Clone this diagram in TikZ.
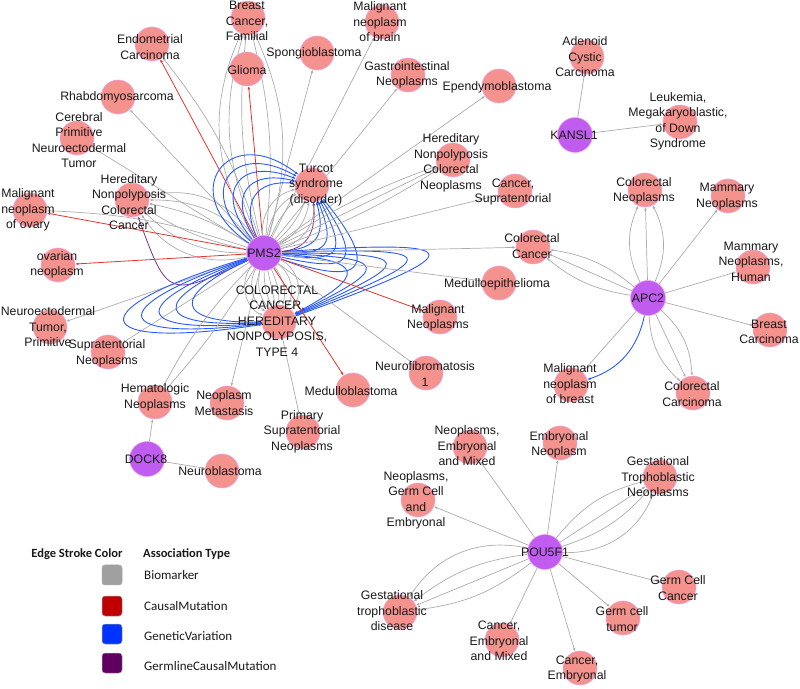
\documentclass[tikz,border=0pt]{standalone}
\usepackage{fontspec}
\setmainfont{Liberation Sans}
\newfontfamily\legfont{Carlito}
\usetikzlibrary{arrows.meta}
\pgfdeclarelayer{edgelayer}
\pgfsetlayers{edgelayer,main}
\definecolor{pinkfill}{RGB}{244,146,142}
\definecolor{pinkedge}{RGB}{240,165,225}
\definecolor{genefill}{RGB}{192,92,240}
\definecolor{biocol}{RGB}{172,172,172}
\definecolor{cmcol}{RGB}{228,52,46}
\definecolor{gvcol}{RGB}{40,90,255}
\definecolor{gcmcol}{RGB}{128,48,140}
\definecolor{txt}{RGB}{25,25,25}
\definecolor{legbio}{RGB}{160,160,160}
\definecolor{legcm}{RGB}{192,0,0}
\definecolor{leggv}{RGB}{0,51,255}
\definecolor{leggcm}{RGB}{96,0,96}
\tikzset{
  dis/.style={circle, fill=pinkfill, draw=pinkedge, line width=0.6pt, minimum size=34pt, inner sep=0pt},
  gene/.style={circle, fill=genefill, draw=pinkedge, line width=0.6pt, minimum size=35pt, inner sep=0pt},
  lbl/.style={font=\fontsize{12.3}{15.5}\selectfont, align=center, inner sep=0pt, text=txt},
  arrtip/.style={-{Latex[length=3.2pt,width=2.8pt]}},
  bio/.style={draw=biocol, line width=0.7pt, arrtip},
  causal/.style={draw=cmcol, line width=0.8pt, arrtip},
  genvar/.style={draw=gvcol, line width=0.9pt, arrtip},
  germ/.style={draw=gcmcol, line width=0.8pt, arrtip},
  legsq/.style={rectangle, rounded corners=3pt, minimum size=20pt, inner sep=0pt, draw=black!35, line width=0.5pt},
  leghead/.style={font=\legfont\bfseries\fontsize{12.5}{14}\selectfont, inner sep=0pt, text=txt},
  legtxt/.style={font=\legfont\fontsize{13}{15}\selectfont, inner sep=0pt, text=txt, anchor=west}
}
\begin{document}
\begin{tikzpicture}[x=1pt,y=1pt]
\useasboundingbox (0,0) rectangle (800,688);
% ---------- disease and gene circles ----------
\node[dis] (endo) at (152,644) {};
\node[dis] (bcf) at (248,670) {};
\node[dis] (glioma) at (247,619) {};
\node[dis] (spongio) at (317,635) {};
\node[dis] (mnbrain) at (382,666) {};
\node[dis] (gastro) at (408,613) {};
\node[dis] (ependymo) at (499,602) {};
\node[dis] (rhabdo) at (118,591) {};
\node[dis] (cpnet) at (77,550) {};
\node[dis] (hnpcc) at (132,488) {};
\node[dis] (turcot) at (312,503) {};
\node[dis] (mnovary) at (30,478) {};
\node[dis] (ovarian) at (58,423) {};
\node[dis] (nettp) at (50,361) {};
\node[dis] (supraneo) at (108,336) {};
\node[dis] (crc4) at (279,366) {};
\node[dis] (hemato) at (155,286) {};
\node[dis] (neometa) at (227,285) {};
\node[dis] (medullo) at (353,298) {};
\node[dis] (primsupra) at (303,256) {};
\node[dis] (nf1) at (426,315) {};
\node[dis] (malneo) at (440,371) {};
\node[dis] (medulloepi) at (499,405) {};
\node[dis] (crc) at (533,441) {};
\node[dis] (mnh) at (753,421) {};
\node[dis] (breastcarc) at (770,358) {};
\node[dis] (colcarc) at (693,295) {};
\node[dis] (mnbreast) at (571,303) {};
\node[dis] (adenoid) at (587,631) {};
\node[dis] (leuk) at (680,566) {};
\node[dis] (colneo) at (645,498) {};
\node[dis] (mammary) at (728,492) {};
\node[dis] (hnpcn) at (453,528) {};
\node[dis] (cancersupra) at (515,497) {};
\node[dis] (neuroblast) at (222,217) {};
\node[dis] (nem) at (470,241) {};
\node[dis] (embneo) at (560,245) {};
\node[dis] (ngce) at (418,188) {};
\node[dis] (gtn) at (660,211) {};
\node[dis] (gtd) at (400,76) {};
\node[dis] (cem) at (502,48) {};
\node[dis] (ce) at (580,20) {};
\node[dis] (gct) at (623,70) {};
\node[dis] (gcc) at (679,101) {};
\node[gene] (pms2) at (264,435) {};
\node[gene] (apc2) at (648,390) {};
\node[gene] (kansl1) at (575,553) {};
\node[gene] (dock8) at (147,229) {};
\node[gene] (pou) at (545,136) {};
% ---------- edges ----------
\begin{pgfonlayer}{edgelayer}
% PMS2
\draw[bio] (pms2) to[bend right=10] (endo);
\draw[causal] (pms2) -- (endo);
\foreach \b in {10,20,28} \draw[bio] (pms2) to[bend left=\b] (bcf);
\foreach \b in {10,20} \draw[bio] (pms2) to[bend right=\b] (bcf);
\draw[causal] (pms2) -- (glioma);
\draw[bio] (pms2) -- (spongio);
\draw[bio] (pms2) -- (mnbrain);
\draw[bio] (pms2) -- (gastro);
\draw[bio] (pms2) -- (ependymo);
\draw[bio] (pms2) -- (rhabdo);
\draw[bio] (pms2) -- (cpnet);
\foreach \b in {10,22,35} {\draw[bio] (pms2) to[bend left=\b] (hnpcc); \draw[bio] (pms2) to[bend right=\b] (hnpcc);}
\draw[germ] (pms2) to[out=205,in=-70,looseness=1.9] (hnpcc);
\draw[bio] (pms2) to[bend right=8] (mnovary);
\draw[causal] (pms2) -- (mnovary);
\draw[causal] (pms2) -- (ovarian);
\draw[bio] (pms2) -- (nettp);
\draw[bio] (pms2) -- (supraneo);
\foreach \b in {12,25,40,55} {\draw[bio] (pms2) to[bend left=\b] (crc4); \draw[bio] (pms2) to[bend right=\b] (crc4);}
\foreach \b/\l in {74/3.5,76/4.5,78/5.5,80/6.5,82/7.5} \draw[genvar] (pms2) to[bend left=\b,looseness=\l] (crc4);
\foreach \b/\l in {78/3.5,80/4.3,82/5.1,84/5.9,86/6.7} \draw[genvar] (pms2) to[bend right=\b,looseness=\l] (crc4);
\foreach \b in {12,25,40} {\draw[bio] (pms2) to[bend left=\b] (turcot); \draw[bio] (pms2) to[bend right=\b] (turcot);}
\foreach \b/\l in {60/1.5,68/1.8,76/2.1,84/2.4,92/2.7} \draw[genvar] (pms2) to[bend left=\b,looseness=\l] (turcot);
\foreach \b/\l in {50/1.5,56/1.9,62/2.3,68/2.7,74/3.1} \draw[genvar] (pms2) to[bend right=\b,looseness=\l] (turcot);
\draw[germ] (pms2) to[out=5,in=-85,looseness=1.2] (turcot);
\draw[bio] (pms2) to[bend left=5] (hemato);
\draw[bio] (pms2) to[bend right=8] (hemato);
\draw[bio] (pms2) -- (neometa);
\draw[causal] (pms2) -- (medullo);
\draw[bio] (pms2) -- (primsupra);
\draw[bio] (pms2) -- (nf1);
\draw[causal] (pms2) -- (malneo);
\draw[bio] (pms2) -- (medulloepi);
\draw[bio] (pms2) -- (crc);
\draw[bio] (pms2) -- (hnpcn);
\draw[bio] (pms2) to[bend left=6] (hnpcn);
\draw[bio] (pms2) to[bend right=6] (hnpcn);
\draw[bio] (pms2) -- (cancersupra);
% APC2
\draw[bio] (apc2) -- (crc);
\draw[bio] (apc2) to[bend left=15] (crc);
\draw[bio] (apc2) to[bend right=15] (crc);
\draw[bio] (apc2) -- (colneo);
\draw[bio] (apc2) to[bend left=25] (colneo);
\draw[bio] (apc2) to[bend right=25] (colneo);
\draw[bio] (apc2) -- (mammary);
\draw[bio] (apc2) -- (mnh);
\draw[bio] (apc2) -- (breastcarc);
\draw[bio] (apc2) -- (colcarc);
\draw[bio] (apc2) to[bend left=22] (colcarc);
\draw[bio] (apc2) to[bend right=22] (colcarc);
\draw[bio] (apc2) -- (mnbreast);
\draw[genvar] (apc2) to[bend left=30] (mnbreast);
% KANSL1
\draw[bio] (kansl1) -- (adenoid);
\draw[bio] (kansl1) -- (leuk);
% DOCK8
\draw[bio] (dock8) -- (hemato);
\draw[bio] (dock8) -- (neuroblast);
% POU5F1
\draw[bio] (pou) -- (nem);
\draw[bio] (pou) -- (embneo);
\draw[bio] (pou) -- (ngce);
\draw[bio] (pou) -- (gtn);
\draw[bio] (pou) to[bend left=18] (gtn);
\draw[bio] (pou) to[bend right=15] (gtn);
\draw[bio] (pou) to[bend right=35] (gtn);
\draw[bio] (pou) -- (gtd);
\draw[bio] (pou) to[bend right=15] (gtd);
\draw[bio] (pou) to[bend right=35] (gtd);
\draw[bio] (pou) to[bend left=15] (gtd);
\draw[bio] (pou) -- (gcc);
\draw[bio] (pou) -- (gct);
\draw[bio] (pou) -- (ce);
\draw[bio] (pou) -- (cem);
\end{pgfonlayer}
% ---------- labels ----------
\node[lbl] (t-endo) at (150,641) {Endometrial\\Carcinoma};
\node[lbl] (t-bcf) at (247,667) {Breast\\Cancer,\\Familial};
\node[lbl] (t-glioma) at (247,618) {Glioma};
\node[lbl] (t-spongio) at (314,635) {Spongioblastoma};
\node[lbl] (t-mnbrain) at (380,666) {Malignant\\neoplasm\\of brain};
\node[lbl] (t-gastro) at (407,613) {Gastrointestinal\\Neoplasms};
\node[lbl] (t-ependymo) at (497,601) {Ependymoblastoma};
\node[lbl] (t-rhabdo) at (117,591) {Rhabdomyosarcoma};
\node[lbl] (t-cpnet) at (79,548) {Cerebral\\Primitive\\Neuroectodermal\\Tumor};
\node[lbl] (t-hnpcc) at (129,486) {Hereditary\\Nonpolyposis\\Colorectal\\Cancer};
\node[lbl] (t-turcot) at (316,503) {Turcot\\syndrome\\(disorder)};
\node[lbl] (t-mnovary) at (28,478) {Malignant\\neoplasm\\of ovary};
\node[lbl] (t-ovarian) at (57,423) {ovarian\\neoplasm};
\node[lbl] (t-pms2) at (264,435) {PMS2};
\node[lbl] (t-nettp) at (48,361) {Neuroectodermal\\Tumor,\\Primitive};
\node[lbl] (t-supraneo) at (107,334.5) {Supratentorial\\Neoplasms};
\node[lbl] (t-crc4) at (277,367) {COLORECTAL\\CANCER,\\HEREDITARY\\NONPOLYPOSIS,\\TYPE 4};
\node[lbl] (t-hemato) at (155,290.5) {Hematologic\\Neoplasms};
\node[lbl] (t-neometa) at (224,285) {Neoplasm\\Metastasis};
\node[lbl] (t-medullo) at (351,297) {Medulloblastoma};
\node[lbl] (t-primsupra) at (302,256.5) {Primary\\Supratentorial\\Neoplasms};
\node[lbl] (t-nf1) at (425,314) {Neurofibromatosis\\1};
\node[lbl] (t-malneo) at (438,370) {Malignant\\Neoplasms};
\node[lbl] (t-medulloepi) at (497,404) {Medulloepithelioma};
\node[lbl] (t-crc) at (532,442) {Colorectal\\Cancer};
\node[lbl] (t-apc2) at (648,390) {APC2};
\node[lbl] (t-mnh) at (751,426.5) {Mammary\\Neoplasms,\\Human};
\node[lbl] (t-breastcarc) at (769,356) {Breast\\Carcinoma};
\node[lbl] (t-colcarc) at (692,294) {Colorectal\\Carcinoma};
\node[lbl] (t-mnbreast) at (570,304) {Malignant\\neoplasm\\of breast};
\node[lbl] (t-kansl1) at (574,553) {KANSL1};
\node[lbl] (t-adenoid) at (585,631) {Adenoid\\Cystic\\Carcinoma};
\node[lbl] (t-leuk) at (678,566.5) {Leukemia,\\Megakaryoblastic,\\of Down\\Syndrome};
\node[lbl] (t-colneo) at (644,497) {Colorectal\\Neoplasms};
\node[lbl] (t-mammary) at (727,491.5) {Mammary\\Neoplasms};
\node[lbl] (t-hnpcn) at (451,525) {Hereditary\\Nonpolyposis\\Colorectal\\Neoplasms};
\node[lbl] (t-cancersupra) at (513,496) {Cancer,\\Supratentorial};
\node[lbl] (t-dock8) at (146,229) {DOCK8};
\node[lbl] (t-neuroblast) at (220,217) {Neuroblastoma};
\node[lbl] (t-pou) at (545,136) {POU5F1};
\node[lbl] (t-nem) at (467,242) {Neoplasms,\\Embryonal\\and Mixed};
\node[lbl] (t-embneo) at (559,243) {Embryonal\\Neoplasm};
\node[lbl] (t-ngce) at (416,187.5) {Neoplasms,\\Germ Cell\\and\\Embryonal};
\node[lbl] (t-gtn) at (658,210) {Gestational\\Trophoblastic\\Neoplasms};
\node[lbl] (t-gtd) at (392,77) {Gestational\\trophoblastic\\disease};
\node[lbl] (t-cem) at (499,47) {Cancer,\\Embryonal\\and Mixed};
\node[lbl] (t-ce) at (577,19) {Cancer,\\Embryonal};
\node[lbl] (t-gct) at (622,69) {Germ cell\\tumor};
\node[lbl] (t-gcc) at (678,100) {Germ Cell\\Cancer};
% ---------- legend ----------
\node[leghead] (lh1) at (77,134) {Edge Stroke Color};
\node[leghead, anchor=west] (lh2) at (143,134) {Association Type};
\node[legsq, fill=legbio] (sq1) at (112,113) {};
\node[legsq, fill=legcm] (sq2) at (112,82) {};
\node[legsq, fill=leggv] (sq3) at (112,54) {};
\node[legsq, fill=leggcm] (sq4) at (112,25) {};
\node[legtxt] (lt1) at (144,113) {Biomarker};
\node[legtxt] (lt2) at (144,82) {CausalMutation};
\node[legtxt] (lt3) at (144,52) {GeneticVariation};
\node[legtxt] (lt4) at (144,22) {GermlineCausalMutation};
\end{tikzpicture}
\end{document}
